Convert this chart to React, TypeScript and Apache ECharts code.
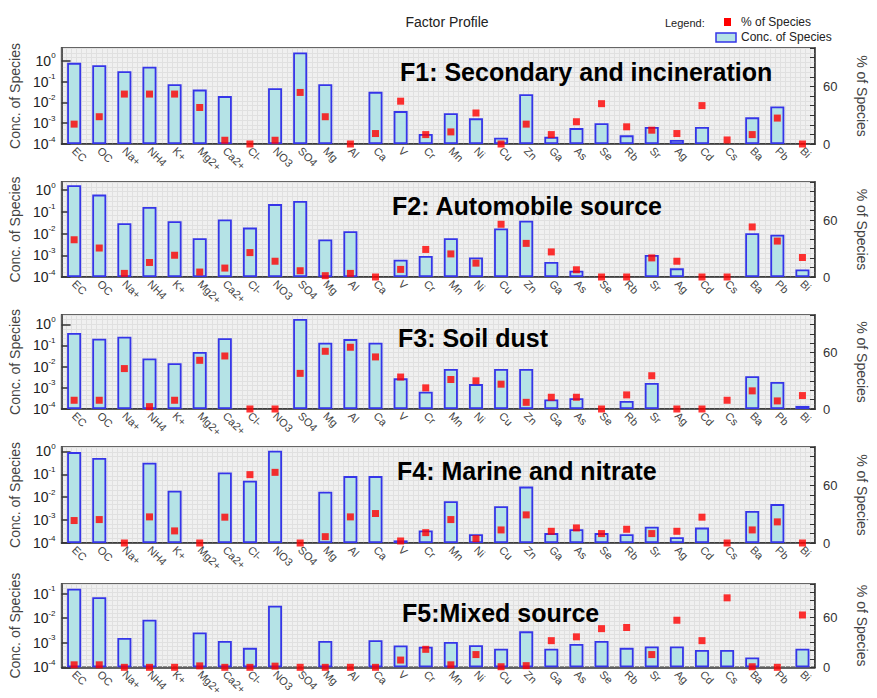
import React, { useEffect, useRef } from 'react';
import * as echarts from 'echarts';

const species = ['EC', 'OC', 'Na+', 'NH4', 'K+', 'Mg2+', 'Ca2+', 'Cl-', 'NO3', 'SO4', 'Mg', 'Al', 'Ca', 'V', 'Cr', 'Mn', 'Ni', 'Cu', 'Zn', 'Ga', 'As', 'Se', 'Rb', 'Sr', 'Ag', 'Cd', 'Cs', 'Ba', 'Pb', 'Bi'];

const factorTitles = ['F1: Secondary and incineration', 'F2: Automobile source', 'F3: Soil dust', 'F4: Marine and nitrate', 'F5:Mixed source'];

// Conc. of Species (log scale); null = no bar
const f1Conc = [0.79, 0.60, 0.31, 0.51, 0.074, 0.041, 0.020, null, 0.048, 2.5, 0.074, null, 0.032, 0.0038, 0.0003, 0.0030, 0.0017, 0.0002, 0.0245, 0.00022, 0.00058, 0.001, 0.00026, 0.00065, 0.000155, 0.00065, null, 0.0019, 0.0063, null];
const f2Conc = [1.7, 0.63, 0.030, 0.17, 0.037, 0.0062, 0.045, 0.019, 0.23, 0.32, 0.0054, 0.013, null, 0.00063, 0.00093, 0.0062, 0.0008, 0.0174, 0.039, 0.00049, 0.000195, null, null, 0.00103, 0.00025, null, null, 0.0105, 0.0089, 0.00022];
const f3Conc = [0.39, 0.21, 0.26, 0.0245, 0.0145, 0.049, 0.22, null, null, 1.8, 0.135, 0.20, 0.135, 0.0028, 0.00066, 0.0078, 0.0015, 0.0078, 0.0078, 0.00028, 0.00032, null, 0.00024, 0.0017, null, null, null, 0.0035, 0.0019, 0.00014];
const f4Conc = [0.93, 0.51, null, 0.32, 0.019, null, 0.12, 0.052, 1.07, null, 0.0174, 0.083, 0.083, 0.00013, 0.00035, 0.0066, 0.00024, 0.004, 0.029, 0.00027, 0.0004, 0.00027, 0.00024, 0.00051, 0.00018, 0.00047, null, 0.0025, 0.005, null];
const f5Conc = [0.158, 0.071, 0.00155, 0.0087, null, 0.0026, 0.00118, 0.00062, 0.032, null, 0.00118, null, 0.00126, 0.00078, 0.00069, 0.00107, 0.00079, 0.00057, 0.0029, 0.00057, 0.00089, 0.00118, 0.00062, 0.00071, 0.00071, 0.00051, 0.00051, 0.00025, null, 0.00057];

// % of Species
const f1Pct = [20.7, 28.4, 52, 52, 52, 38, 3.9, 0, 3.9, 53.7, 28.4, 0, 10.9, 44.6, 9.8, 12.6, 32.3, 0, 20.7, 9.8, 23.2, 42, 17.9, 14.4, 10.9, 40, 4.2, 9.8, 27, 0];
const f2Pct = [39.2, 30.5, 3.8, 15.3, 22.9, 5.2, 9.4, 25.7, 16.6, 6.6, 1.4, 3.8, 0, 8, 29, 24.3, 14.6, 55.5, 35.4, 26.4, 7.6, 0, 0, 20.1, 16.6, 0, 0, 52.7, 37.8, 20.5];
const f3Pct = [9.3, 9.3, 43, 2.5, 9.3, 51.8, 56.4, 0, 0, 37.9, 61.4, 65.7, 55.4, 34, 22.5, 31.4, 30, 26.4, 7.1, 12.5, 12.5, 0, 15, 35.4, 0, 0, 9.3, 19.3, 8.6, 14.3];
const f4Pct = [23.4, 24.4, 0, 27.2, 12.6, 0, 26.9, 71.2, 73.6, 0, 6.6, 27.2, 30.7, 2.1, 10.8, 24.4, 4.5, 13.6, 29.3, 12.2, 15.7, 9.8, 14.3, 9.8, 12.2, 26.9, 0, 13.6, 22, 0];
const f5Pct = [3, 3, 0, 0, 0, 1.7, 0, 0, 1.4, 0, 0, 0, 0, 8.7, 21.6, 3, 15.3, 0.7, 2, 32, 36.6, 46.4, 47.8, 15.3, 56.5, 32, 83.4, 0.7, 0, 62.8];

const concMax = [4.07, 2.4, 2.75, 1.55, 0.245];
const concMin = 1e-4;
const pctMax = 100;
const pctLabels = [0, 60];

const concSeries = [f1Conc, f2Conc, f3Conc, f4Conc, f5Conc];
const pctSeries = [f1Pct, f2Pct, f3Pct, f4Pct, f5Pct];

const FONT = 'Liberation Sans, Arial, sans-serif';
const GRID_TOPS = [48, 182, 315, 447, 584];
const GRID_HEIGHTS = [96, 95, 94, 96, 95];
const TITLE_POS = [[400, 59], [392, 193], [398, 325], [397, 458], [402, 600]];
const BAR_FILL = '#b5e3e6';
const BAR_BORDER = '#3535e8';

export default function App() {
  const ref = useRef<HTMLDivElement>(null);
  useEffect(() => {
    if (!ref.current) return;
    const chart = echarts.init(ref.current, null, { renderer: 'svg' });
    const n = concSeries.length;
    const grids: any[] = [];
    const xAxes: any[] = [];
    const yAxes: any[] = [];
    const series: any[] = [];
    for (let i = 0; i < n; i++) {
      grids.push({
        left: 61, right: 38, top: GRID_TOPS[i], height: GRID_HEIGHTS[i],
        show: true, backgroundColor: '#f0f0f0', borderColor: '#333', borderWidth: 1.5,
      });
      xAxes.push({
        type: 'category', gridIndex: i, data: species, position: 'bottom',
        axisLine: { lineStyle: { color: '#333', width: 1.5 } },
        axisTick: { alignWithLabel: true, length: 4, lineStyle: { color: '#333' } },
        axisLabel: { interval: 0, rotate: -45, fontSize: 11, color: '#444', margin: 5, fontFamily: FONT },
        splitLine: { show: false },
      });
    }
    for (let i = 0; i < n; i++) {
      xAxes.push({
        type: 'value', gridIndex: i, position: 'top', min: 0, max: species.length * 5, interval: 1,
        axisLine: { show: false }, axisTick: { show: false }, axisLabel: { show: false },
        splitLine: { show: true, lineStyle: { color: '#e0e0e0', width: 1 } },
      });
    }
    for (let i = 0; i < n; i++) {
      yAxes.push({
        type: 'log', logBase: 10, gridIndex: i, position: 'left',
        min: concMin, max: concMax[i], startValue: concMin,
        name: 'Conc. of Species', nameLocation: 'middle', nameGap: 37,
        nameTextStyle: { fontSize: 14, color: '#444', fontFamily: FONT },
        axisLine: { show: true, lineStyle: { color: '#333', width: 1.5 } },
        axisTick: { show: true, inside: true, length: 9, lineStyle: { color: '#333', width: 1.5 } },
        axisLabel: {
          showMaxLabel: false,
          margin: 6,
          formatter: (v: number) => {
            const l = Math.log10(v);
            const r = Math.round(l);
            if (Math.abs(l - r) > 1e-3) return '';
            return `{b|10}{s|${r}}`;
          },
          rich: {
            b: { fontSize: 14, color: '#222', fontFamily: FONT },
            s: { fontSize: 8, color: '#222', fontFamily: FONT, padding: [0, 0, 10, 0] },
          },
        },
        splitLine: { show: false },
      });
      yAxes.push({
        type: 'value', gridIndex: i, position: 'right', min: 0, max: pctMax, interval: 10,
        name: '% of Species', nameLocation: 'middle', nameRotate: -90, nameGap: 40,
        nameTextStyle: { fontSize: 14, color: '#444', fontFamily: FONT },
        axisLine: { show: true, lineStyle: { color: '#333', width: 1.5 } },
        axisTick: { show: true, inside: true, length: 5, lineStyle: { color: '#333' } },
        axisLabel: {
          fontSize: 13, color: '#333', margin: 8, fontFamily: FONT,
          formatter: (v: number) => (pctLabels.includes(v) ? String(v) : ''),
        },
        splitLine: { show: true, lineStyle: { color: '#e0e0e0' } },
        minorTick: { show: false, splitNumber: 2 },
        minorSplitLine: { show: true, lineStyle: { color: '#e0e0e0' } },
      });
      series.push({
        type: 'bar', name: 'Conc. of Species', xAxisIndex: i, yAxisIndex: 2 * i,
        data: concSeries[i], barWidth: 14,
        itemStyle: { color: BAR_FILL, borderColor: BAR_BORDER, borderWidth: 1.8 },
      });
      series.push({
        type: 'scatter', name: '% of Species', xAxisIndex: i, yAxisIndex: 2 * i + 1,
        data: pctSeries[i], symbol: 'rect', symbolSize: 7, clip: false, z: 5,
        itemStyle: { color: '#ff0000' },
      });
    }
    const titles: any[] = [
      { text: 'Factor Profile', left: 447, top: 15, textAlign: 'center', padding: 0,
        textStyle: { fontSize: 14, fontWeight: 'normal', color: '#222', fontFamily: FONT } },
    ];
    factorTitles.forEach((t, i) => {
      titles.push({
        text: t, left: TITLE_POS[i][0], top: TITLE_POS[i][1], padding: 0,
        textStyle: { fontSize: 25, fontWeight: 'bold', color: '#000', fontFamily: FONT },
      });
    });
    chart.setOption({
      animation: false,
      backgroundColor: '#fff',
      textStyle: { fontFamily: FONT },
      title: titles,
      grid: grids,
      xAxis: xAxes,
      yAxis: yAxes,
      series,
      graphic: [
        { type: 'text', left: 665, top: 17, style: { text: 'Legend:', fontSize: 11, fill: '#222', fontFamily: FONT } },
        { type: 'rect', shape: { x: 724, y: 18, width: 7, height: 8 }, style: { fill: '#ff0000' } },
        { type: 'text', left: 741, top: 16, style: { text: '% of Species', fontSize: 12, fill: '#222', fontFamily: FONT } },
        { type: 'rect', shape: { x: 716, y: 33, width: 20, height: 9 }, style: { fill: BAR_FILL, stroke: BAR_BORDER, lineWidth: 1.5 } },
        { type: 'text', left: 741, top: 31, style: { text: 'Conc. of Species', fontSize: 12, fill: '#222', fontFamily: FONT } },
      ],
    });
    return () => chart.dispose();
  }, []);
  return <div ref={ref} style={{ position: 'absolute', left: 0, top: 0, width: 877, height: 698 }} />;
}
